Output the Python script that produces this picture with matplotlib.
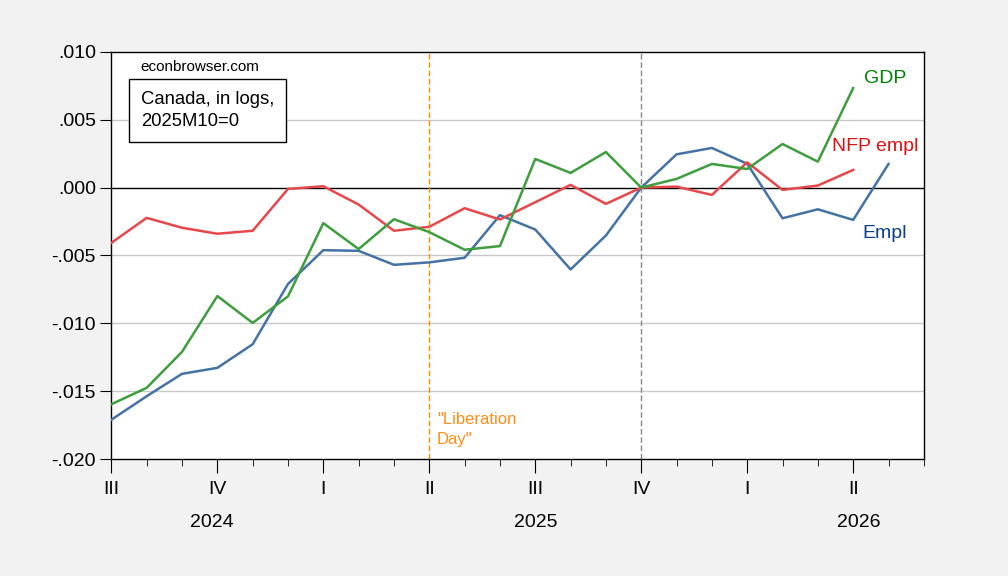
import numpy as np
import matplotlib
matplotlib.use('Agg')
import matplotlib.pyplot as plt
import matplotlib.transforms as mtransforms
from matplotlib.ticker import FixedLocator, FuncFormatter

plt.rcParams['font.family'] = ['Liberation Sans', 'DejaVu Sans']

# monthly, 2024M07 .. 2026M06 (log levels, 2025M10=0)
months = ['2024-07', '2024-08', '2024-09', '2024-10', '2024-11', '2024-12',
          '2025-01', '2025-02', '2025-03', '2025-04', '2025-05', '2025-06',
          '2025-07', '2025-08', '2025-09', '2025-10', '2025-11', '2025-12',
          '2026-01', '2026-02', '2026-03', '2026-04', '2026-05', '2026-06']

gdp = [-0.01596, -0.01475, -0.0121, -0.00799, -0.00997, -0.00801,
       -0.00262, -0.00453, -0.00233, -0.00328, -0.00458, -0.00431,
       0.00211, 0.00108, 0.00262, 0.0, 0.00064, 0.00174,
       0.00137, 0.00321, 0.00191, 0.00733]
nfp_empl = [-0.00407, -0.00223, -0.00296, -0.0034, -0.00318, -0.0001,
            0.0001, -0.00125, -0.00318, -0.00289, -0.00152, -0.00235,
            -0.00108, 0.0002, -0.0012, 0.0, 0.00007, -0.00054,
            0.00186, -0.00017, 0.00015, 0.0013]
empl = [-0.0171, -0.01537, -0.01372, -0.01328, -0.01154, -0.0071,
        -0.00461, -0.00466, -0.00569, -0.00551, -0.00517, -0.00203,
        -0.00309, -0.00603, -0.00353, 0.0, 0.00245, 0.00292,
        0.00175, -0.00226, -0.0016, -0.00238, 0.00174]

quarter_lbl = ['III', 'IV', 'I', 'II', 'III', 'IV', 'I', 'II']
years = ['2024', '2025', '2026']
year_pos = [2.85, 12.0, 21.15]

fig = plt.figure(figsize=(10.08, 5.76), dpi=100, facecolor='#f2f2f2')
ax = fig.add_axes([0.1105, 0.203, 0.806, 0.707])
ax.set_facecolor('white')

x = np.arange(len(months))
ax.plot(x[:len(empl)], empl, color='#4472a4', lw=1.8, zorder=3)
ax.plot(x[:len(nfp_empl)], nfp_empl, color='#e8474a', lw=1.8, zorder=3)
ax.plot(x[:len(gdp)], gdp, color='#3e9e3e', lw=1.8, zorder=3)

ax.set_xlim(0, len(months) - 1)
ax.set_ylim(-0.020, 0.010)

for yy in [-0.015, -0.010, -0.005, 0.005]:
    ax.axhline(yy, color='#c8c8c8', lw=1, zorder=1)
ax.axhline(0, color='black', lw=1, zorder=2)
ax.axvline(months.index('2025-04'), color='#ff8c00', lw=1, ls=(0, (4, 2)), zorder=2)
ax.axvline(months.index('2025-10'), color='#888888', lw=1, ls=(0, (4, 2)), zorder=2)

ax.yaxis.set_major_locator(FixedLocator([-0.020, -0.015, -0.010, -0.005, 0.0, 0.005, 0.010]))
ax.yaxis.set_major_formatter(FuncFormatter(lambda v, p: ('%.3f' % v).replace('0.', '.', 1)))
ax.tick_params(axis='y', direction='out', length=8, labelsize=14, pad=3)

qpos = [i for i, m in enumerate(months) if int(m[5:]) in (1, 4, 7, 10)]
ax.set_xticks(qpos)
ax.set_xticklabels(quarter_lbl)
ax.set_xticks(x, minor=True)
ax.tick_params(axis='x', which='major', direction='out', length=10, labelsize=14, pad=6)
ax.tick_params(axis='x', which='minor', direction='out', length=5)

trans = mtransforms.blended_transform_factory(ax.transData, ax.transAxes)
for yl, xp in zip(years, year_pos):
    ax.text(xp, -0.155, yl, ha='center', va='center', fontsize=14, transform=trans)

for s in ax.spines.values():
    s.set_linewidth(1)

ax.text(0.036, 0.964, 'econbrowser.com', transform=ax.transAxes, fontsize=11, va='center')
ax.text(0.036, 0.905, 'Canada, in logs,\n2025M10=0', transform=ax.transAxes, fontsize=13.3,
        va='top', linespacing=1.45,
        bbox=dict(boxstyle='square,pad=0.65', fc='white', ec='black', lw=1))

ax.text(21.3, 0.0080, 'GDP', color='#008000', fontsize=14, va='center')
ax.text(20.4, 0.0030, 'NFP empl', color='#e01010', fontsize=14, va='center')
ax.text(21.25, -0.0034, 'Empl', color='#0a3f8a', fontsize=14, va='center')
ax.text(9.22, -0.0178, '"Liberation\nDay"', color='#ff8c1a', fontsize=12, va='center', linespacing=1.4)

fig.savefig('out.png', dpi=100, facecolor=fig.get_facecolor())
